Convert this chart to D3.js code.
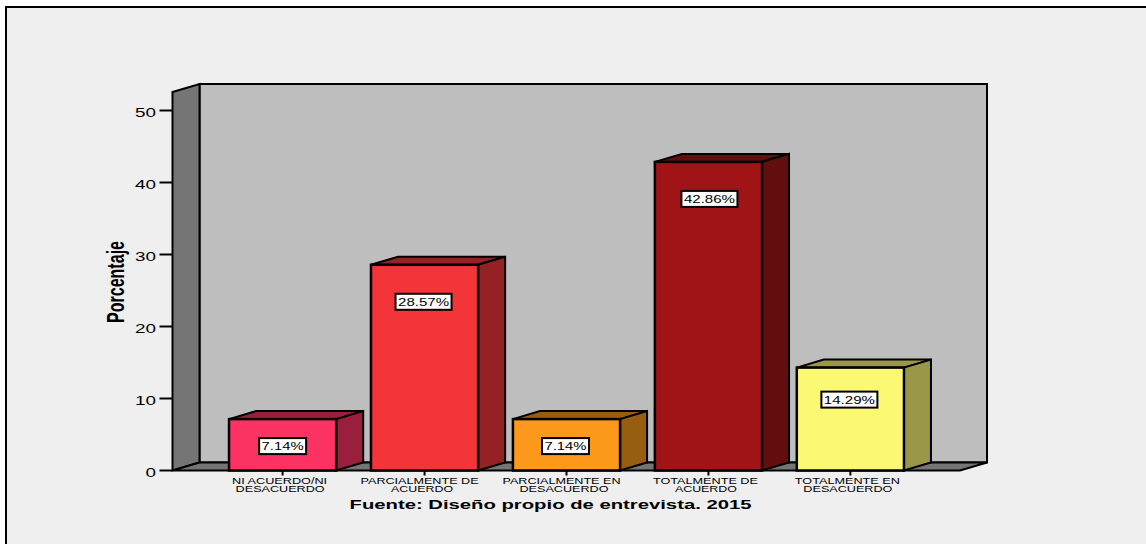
<!DOCTYPE html>
<html><head><meta charset="utf-8">
<script src="https://cdn.jsdelivr.net/npm/d3@7/dist/d3.min.js"></script>
<style>html,body{margin:0;padding:0;background:#fff}svg{display:block}text{font-family:"Liberation Sans",Arial,sans-serif;fill:#000}</style>
</head><body><svg id="c" width="1146" height="544"></svg>
<script>
const categories=[["NI ACUERDO/NI","DESACUERDO"],["PARCIALMENTE DE","ACUERDO"],["PARCIALMENTE EN","DESACUERDO"],["TOTALMENTE DE","ACUERDO"],["TOTALMENTE EN","DESACUERDO"]];
const values=[7.14,28.57,7.14,42.86,14.29];
const labels=["7.14%","28.57%","7.14%","42.86%","14.29%"];
const frontColors=["#fc3262","#f33439","#fc991a","#a01418","#fbf873"];
const sideColors=["#9a1f3d","#952124","#985e10","#620d0e","#9a9748"];
const topColors=["#9a1f3d","#952124","#985e10","#620d0e","#9a9748"];
const yTicks=[0,10,20,30,40,50];
const svg=d3.select("#c");
const dx=27,dy=-8;
const x=d3.scaleBand().domain(d3.range(values.length)).range([212,921]).paddingInner(0.245).paddingOuter(0.12);
const y=d3.scaleLinear().domain([0,50]).range([470.5,110.5]);
const left=172.5,right=960,floorY=y(0),topY=92;
const pts=a=>a.map(p=>p.join(",")).join(" ");
svg.append("rect").attr("x",6).attr("y",7).attr("width",1140).attr("height",537).attr("fill","#efefef");
svg.append("path").attr("d","M6,544V7H1146").attr("fill","none").attr("stroke","#000").attr("stroke-width",2);
svg.append("polygon").attr("points",pts([[left+dx,topY+dy],[right+dx,topY+dy],[right+dx,floorY+dy],[left+dx,floorY+dy]])).attr("fill","#bebebe").attr("stroke","#000").attr("stroke-width",2);
svg.append("polygon").attr("points",pts([[left,topY],[left+dx,topY+dy],[left+dx,floorY+dy],[left,floorY]])).attr("fill","#757575").attr("stroke","#000").attr("stroke-width",2);
svg.append("polygon").attr("points",pts([[left,floorY],[left+dx,floorY+dy],[right+dx,floorY+dy],[right,floorY]])).attr("fill","#757575").attr("stroke","#000").attr("stroke-width",2);
svg.selectAll("line.yt").data(yTicks).join("line").attr("x1",left-13).attr("x2",left).attr("y1",d=>y(d)).attr("y2",d=>y(d)).attr("stroke","#000").attr("stroke-width",2);
svg.selectAll("text.yl").data(yTicks).join("text").attr("x",156).attr("y",d=>y(d)+6).attr("text-anchor","end").attr("font-size",13).attr("fill","#222").attr("textLength",d=>d===0?10.5:21).attr("lengthAdjust","spacingAndGlyphs").text(d=>d);
const g=svg.selectAll("g.b").data(values).join("g");
g.append("polygon").attr("points",(d,i)=>{const a=x(i),b=a+x.bandwidth(),t=y(d);return pts([[a,t],[a+dx,t+dy],[b+dx,t+dy],[b,t]])}).attr("fill",(d,i)=>topColors[i]).attr("stroke","#000").attr("stroke-width",2);
g.append("polygon").attr("points",(d,i)=>{const b=x(i)+x.bandwidth(),t=y(d);return pts([[b,t],[b+dx,t+dy],[b+dx,floorY+dy],[b,floorY]])}).attr("fill",(d,i)=>sideColors[i]).attr("stroke","#000").attr("stroke-width",2);
g.append("rect").attr("x",(d,i)=>x(i)).attr("y",d=>y(d)).attr("width",x.bandwidth()).attr("height",d=>floorY-y(d)).attr("fill",(d,i)=>frontColors[i]).attr("stroke","#000").attr("stroke-width",2.5);
const c=i=>x(i)+x.bandwidth()/2;
const labY=d=>y(d)+(d<10?27:d<15?32:37);
const labX=i=>c(i)-(i===0?0:i===3?-1:1);
g.append("rect").attr("x",(d,i)=>labX(i)-(labels[i].length>5?28:23.5)).attr("y",d=>labY(d)-8).attr("width",(d,i)=>labels[i].length>5?56:47).attr("height",16).attr("fill","#fff").attr("stroke","#000").attr("stroke-width",2);
g.append("text").attr("x",(d,i)=>labX(i)).attr("y",d=>labY(d)+4).attr("text-anchor","middle").attr("font-size",10.5).attr("fill","#222").attr("textLength",(d,i)=>labels[i].length>5?51:42).attr("lengthAdjust","spacingAndGlyphs").text((d,i)=>labels[i]);
const xg=svg.selectAll("g.x").data(categories).join("g");
xg.append("line").attr("x1",(d,i)=>c(i)).attr("x2",(d,i)=>c(i)).attr("y1",floorY).attr("y2",floorY+5).attr("stroke","#000").attr("stroke-width",2);
const w1=s=>s.startsWith("PARCIAL")?118:s.startsWith("TOTAL")?105:95;
const w2=s=>s==="ACUERDO"?62:89;
const off1=s=>s.startsWith("PARCIAL")?-5:-3;
xg.append("text").attr("x",(d,i)=>c(i)+off1(d[0])).attr("y",484).attr("text-anchor","middle").attr("font-size",8.5).attr("fill","#222").attr("textLength",d=>w1(d[0])).attr("lengthAdjust","spacingAndGlyphs").text(d=>d[0]);
xg.append("text").attr("x",(d,i)=>c(i)-2.5).attr("y",491.5).attr("text-anchor","middle").attr("font-size",8.5).attr("fill","#222").attr("textLength",d=>w2(d[1])).attr("lengthAdjust","spacingAndGlyphs").text(d=>d[1]);
svg.append("text").attr("x",550.5).attr("y",509).attr("text-anchor","middle").attr("font-size",13).attr("font-weight","bold").attr("textLength",402).attr("lengthAdjust","spacingAndGlyphs").text("Fuente: Diseño propio de entrevista. 2015");
svg.append("text").attr("transform","translate(123.5,282) rotate(-90)").attr("text-anchor","middle").attr("font-size",24).attr("font-weight","bold").attr("textLength",82).attr("lengthAdjust","spacingAndGlyphs").text("Porcentaje");
</script></body></html>
